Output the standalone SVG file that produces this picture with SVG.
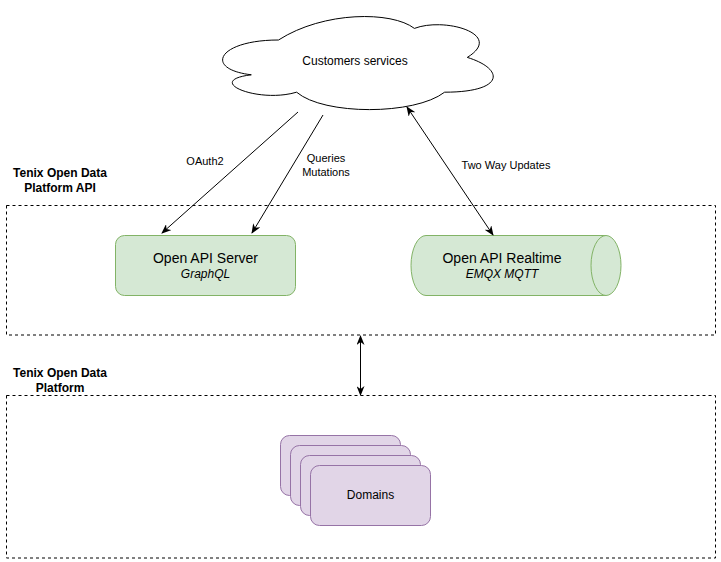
<svg xmlns="http://www.w3.org/2000/svg" width="721" height="562" viewBox="0 0 721 562">
<defs>
<style>
text{font-family:"Liberation Sans",Arial,sans-serif;fill:#000;text-anchor:middle}
.zone{fill:none;stroke:#000;stroke-dasharray:3 3}
.grn{fill:#d5e8d4;stroke:#82b366}
.pur{fill:#e1d5e7;stroke:#9673a6}
.edge{fill:none;stroke:#000;stroke-width:1}
.lbl{font-size:11px}
.bold{font-size:12px;font-weight:bold}
</style>
<marker id="arr" viewBox="0 0 10 8" refX="9" refY="4" markerWidth="10" markerHeight="8" markerUnits="userSpaceOnUse" orient="auto-start-reverse">
<path d="M0,0 L10,4 L0,8 L3,4 Z" fill="#000"/>
</marker>
</defs>
<rect width="721" height="562" fill="#fff"/>
<g id="zone-api">
<rect class="zone" x="6.5" y="205.5" width="709" height="129.5"/>
<text class="bold" x="60" y="177">Tenix Open Data</text>
<text class="bold" x="60" y="192">Platform API</text>
</g>
<g id="zone-platform">
<rect class="zone" x="6.5" y="395.5" width="709" height="162.5"/>
<text class="bold" x="60" y="377">Tenix Open Data</text>
<text class="bold" x="60" y="392">Platform</text>
</g>
<g id="customers">
<path d="M278.5,40 C218.1,40 203,69 251.3,74.8 C203,80.6 257.4,103.8 296.6,92.2 C323.8,115.4 414.4,115.4 444.6,92.2 C505,92.2 505,69 467.3,57.4 C505,34.2 444.6,16.8 414.4,28.4 C391.8,11 323.8,11 278.5,40 Z" fill="#fff" stroke="#000"/>
<text x="355" y="65" font-size="12">Customers services</text>
</g>
<g id="api-server">
<rect class="grn" x="115.5" y="235.5" width="180" height="60" rx="9"/>
<text x="205.5" y="263" font-size="14">Open API Server</text>
<text x="205.5" y="278" font-size="12" font-style="italic">GraphQL</text>
</g>
<g id="api-realtime">
<path class="grn" d="M426,235.5 H606 A15,30 0 0 1 606,295.5 H426 A15,30 0 0 1 426,235.5 Z"/>
<path class="grn" d="M606,235.5 A15,30 0 0 0 606,295.5" fill="none"/>
<text x="502" y="263" font-size="14">Open API Realtime</text>
<text x="502" y="278" font-size="12" font-style="italic">EMQX MQTT</text>
</g>
<g id="domains">
<rect class="pur" x="280.5" y="435.5" width="120" height="60" rx="9"/>
<rect class="pur" x="290.5" y="445.5" width="120" height="60" rx="9"/>
<rect class="pur" x="300.5" y="455.5" width="120" height="60" rx="9"/>
<rect class="pur" x="310.5" y="465.5" width="120" height="60" rx="9"/>
<text x="370.5" y="499" font-size="12">Domains</text>
</g>
<g id="connectors">
<line class="edge" x1="298" y1="112" x2="162" y2="233" marker-end="url(#arr)"/>
<text class="lbl" x="205" y="165">OAuth2</text>
<line class="edge" x1="323" y1="115" x2="252" y2="233" marker-end="url(#arr)"/>
<text class="lbl" x="326" y="162">Queries</text>
<text class="lbl" x="326" y="176">Mutations</text>
<line class="edge" x1="407" y1="107" x2="493" y2="235" marker-start="url(#arr)" marker-end="url(#arr)"/>
<text class="lbl" x="506" y="169">Two Way Updates</text>
<line class="edge" x1="360.5" y1="336" x2="360.5" y2="395" marker-start="url(#arr)" marker-end="url(#arr)"/>
</g>
</svg>
